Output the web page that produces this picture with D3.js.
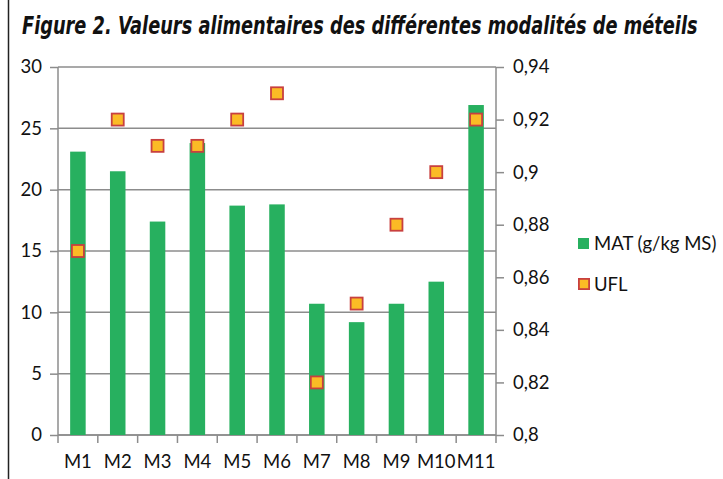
<!DOCTYPE html>
<html lang="fr">
<head>
  <meta charset="UTF-8">
  <title>Figure 2. Valeurs alimentaires des différentes modalités de méteils</title>
  <script src="https://d3js.org/d3.v7.min.js"></script>
  <style>
    body { margin: 0; background: #fff; }
    .tick text { font-family: Lato, "Open Sans", sans-serif; font-size: 18.5px; fill: #111; }
  </style>
</head>
<body>
<div id="chart-container"></div>
<script>
  // Data
  const categories = ['M1', 'M2', 'M3', 'M4', 'M5', 'M6', 'M7', 'M8', 'M9', 'M10', 'M11'];
  const matValues = [23.1, 21.5, 17.4, 23.8, 18.7, 18.8, 10.7, 9.2, 10.7, 12.5, 26.9];
  const uflValues = [0.87, 0.92, 0.91, 0.91, 0.92, 0.93, 0.82, 0.85, 0.88, 0.90, 0.92];
  const leftTicks = [0, 5, 10, 15, 20, 25, 30];
  const rightTicks = [0.8, 0.82, 0.84, 0.86, 0.88, 0.9, 0.92, 0.94];

  const W = 723, H = 479;
  const margin = { top: 67, right: 227, bottom: 44, left: 58 };
  const width = W - margin.left - margin.right;
  const height = H - margin.top - margin.bottom;

  const svg = d3.select('#chart-container')
    .append('svg')
    .attr('width', W)
    .attr('height', H);

  // left frame line of the figure
  svg.append('line')
    .attr('x1', 8.5).attr('x2', 8.5)
    .attr('y1', 0).attr('y2', H)
    .attr('stroke', '#222').attr('stroke-width', 1.5);

  // title, squeezed horizontally to the reference width
  const titleG = svg.append('g');
  const title = titleG.append('text')
    .attr('x', 0).attr('y', 0)
    .attr('font-family', '"Liberation Sans Narrow", "DejaVu Sans Condensed", Arial, sans-serif')
    .attr('font-style', 'italic')
    .attr('font-weight', 'bold')
    .attr('font-size', 24)
    .attr('fill', '#111')
    .text('Figure 2. Valeurs alimentaires des différentes modalités de méteils');
  const titleLen = title.node().getComputedTextLength();
  const sx = Math.min(1, 676 / titleLen);
  titleG.attr('transform', `translate(22,34) scale(${sx},1)`);

  const g = svg.append('g')
    .attr('transform', `translate(${margin.left},${margin.top})`);

  const x = d3.scaleBand().domain(categories).range([0, width]);
  const yLeft = d3.scaleLinear().domain([0, 30]).range([height, 0]);
  const yRight = d3.scaleLinear().domain([0.8, 0.94]).range([height, 0]);

  const gridColor = '#8c8c8c';

  // gridlines
  g.append('g')
    .selectAll('line')
    .data(leftTicks)
    .join('line')
    .attr('x1', 0).attr('x2', width)
    .attr('y1', d => yLeft(d)).attr('y2', d => yLeft(d))
    .attr('stroke', gridColor).attr('stroke-width', 1.5);

  // left axis
  const leftAxis = g.append('g')
    .call(d3.axisLeft(yLeft).tickValues(leftTicks).tickSize(8).tickPadding(8).tickFormat(d3.format('d')));
  leftAxis.selectAll('line, path').attr('stroke', gridColor).attr('stroke-width', 1.5);
  leftAxis.select('.domain').attr('d', `M0,0V${height}`);

  // right axis
  const rightAxis = g.append('g')
    .attr('transform', `translate(${width},0)`)
    .call(d3.axisRight(yRight).tickValues(rightTicks).tickSize(8).tickPadding(9)
      .tickFormat(d => String(+d.toFixed(2)).replace('.', ',')));
  rightAxis.selectAll('line, path').attr('stroke', gridColor).attr('stroke-width', 1.5);
  rightAxis.select('.domain').attr('d', `M0,0V${height}`);

  // bottom axis with ticks at category boundaries
  const bottom = g.append('g').attr('transform', `translate(0,${height})`);
  bottom.append('line')
    .attr('x1', 0).attr('x2', width)
    .attr('stroke', gridColor).attr('stroke-width', 1.5);
  bottom.selectAll('line.tk')
    .data(categories.concat(['end']))
    .join('line')
    .attr('class', 'tk')
    .attr('x1', (d, i) => i * x.step()).attr('x2', (d, i) => i * x.step())
    .attr('y1', 0).attr('y2', 8)
    .attr('stroke', gridColor).attr('stroke-width', 1.5);
  bottom.selectAll('text')
    .data(categories)
    .join('text')
    .attr('x', d => x(d) + x.bandwidth() / 2)
    .attr('y', 33)
    .attr('text-anchor', 'middle')
    .attr('font-family', 'Lato, "Open Sans", sans-serif')
    .attr('font-size', 18.5)
    .attr('fill', '#111')
    .text(d => d);

  // bars
  const barW = x.bandwidth() * 0.39;
  g.append('g')
    .selectAll('rect')
    .data(matValues)
    .join('rect')
    .attr('x', (d, i) => x(categories[i]) + (x.bandwidth() - barW) / 2)
    .attr('y', d => yLeft(d))
    .attr('width', barW)
    .attr('height', d => height - yLeft(d))
    .attr('fill', '#27b05f');

  // UFL markers
  const mk = 12;
  g.append('g')
    .selectAll('rect')
    .data(uflValues)
    .join('rect')
    .attr('x', (d, i) => x(categories[i]) + x.bandwidth() / 2 - mk / 2)
    .attr('y', d => yRight(d) - mk / 2)
    .attr('width', mk)
    .attr('height', mk)
    .attr('fill', '#fbbb25')
    .attr('stroke', '#c8403f')
    .attr('stroke-width', 1.8);

  // legend
  const legend = svg.append('g').attr('transform', 'translate(578,238)');
  legend.append('rect')
    .attr('x', 0).attr('y', 0).attr('width', 11).attr('height', 11)
    .attr('fill', '#27b05f');
  legend.append('text')
    .attr('x', 16).attr('y', 11.5)
    .attr('font-family', 'Lato, "Open Sans", sans-serif')
    .attr('font-size', 18.5)
    .attr('fill', '#111')
    .text('MAT (g/kg MS)');
  legend.append('rect')
    .attr('x', 0.9).attr('y', 40.9).attr('width', 10.2).attr('height', 10.2)
    .attr('fill', '#fbbb25')
    .attr('stroke', '#c8403f')
    .attr('stroke-width', 1.8);
  legend.append('text')
    .attr('x', 16).attr('y', 52.5)
    .attr('font-family', 'Lato, "Open Sans", sans-serif')
    .attr('font-size', 18.5)
    .attr('fill', '#111')
    .text('UFL');
</script>
</body>
</html>
